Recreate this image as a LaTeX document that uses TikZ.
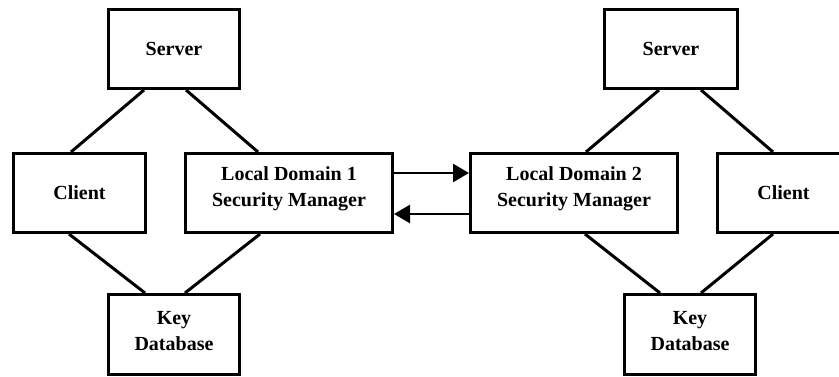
\documentclass[tikz,border=0pt]{standalone}
\usepackage{fontspec}
\setmainfont{Liberation Serif}
\usetikzlibrary{arrows.meta}
\begin{document}
\begin{tikzpicture}[x=1pt,y=1pt,
  box/.style={draw=black, line width=3pt, fill=white, align=center,
    inner sep=0pt, minimum height=79pt,
    font=\fontsize{20}{26}\selectfont\bfseries},
  twoline/.style={text depth=#1},
  link/.style={line width=3pt},
  msg/.style={line width=2.6pt, -{Triangle[length=16pt,width=18pt]}}]
\useasboundingbox (0,0) rectangle (839,376);

% left domain
\node[box, minimum width=131pt] (srvL) at (174,327) {Server};
\node[box, minimum width=132pt] (cliL) at (79.5,183) {Client};
\node[box, twoline=12.5pt, minimum width=207pt] (mgrL) at (289,183) {Local Domain 1\\Security Manager};
\node[box, twoline=8pt, minimum width=131pt, minimum height=80pt] (keyL) at (174,41.5) {Key\\Database};

% right domain
\node[box, minimum width=133pt] (srvR) at (671,327) {Server};
\node[box, twoline=12.5pt, minimum width=207pt] (mgrR) at (574,183) {Local Domain 2\\Security Manager};
\node[box, minimum width=132pt] (cliR) at (783.5,183) {Client};
\node[box, twoline=8pt, minimum width=131pt, minimum height=80pt] (keyR) at (690,41.5) {Key\\Database};

% links inside the left domain
\draw[link] ([xshift=-30pt]srvL.south) -- ([xshift=-8.5pt]cliL.north);
\draw[link] ([xshift=12pt]srvL.south) -- ([xshift=-31pt]mgrL.north);
\draw[link] ([xshift=-10.5pt]cliL.south) -- ([xshift=-29pt]keyL.north);
\draw[link] ([xshift=-29pt]mgrL.south) -- ([xshift=11pt]keyL.north);

% links inside the right domain
\draw[link] ([xshift=-12pt]srvR.south) -- ([xshift=12pt]mgrR.north);
\draw[link] ([xshift=30pt]srvR.south) -- ([xshift=-10.5pt]cliR.north);
\draw[link] ([xshift=11pt]mgrR.south) -- ([xshift=-30pt]keyR.north);
\draw[link] ([xshift=-10.5pt]cliR.south) -- ([xshift=11pt]keyR.north);

% messages between the two security managers
\draw[msg] ([yshift=20pt]mgrL.east) -- ([yshift=20pt]mgrR.west);
\draw[msg] ([yshift=-21pt]mgrR.west) -- ([yshift=-21pt]mgrL.east);
\end{tikzpicture}
\end{document}
